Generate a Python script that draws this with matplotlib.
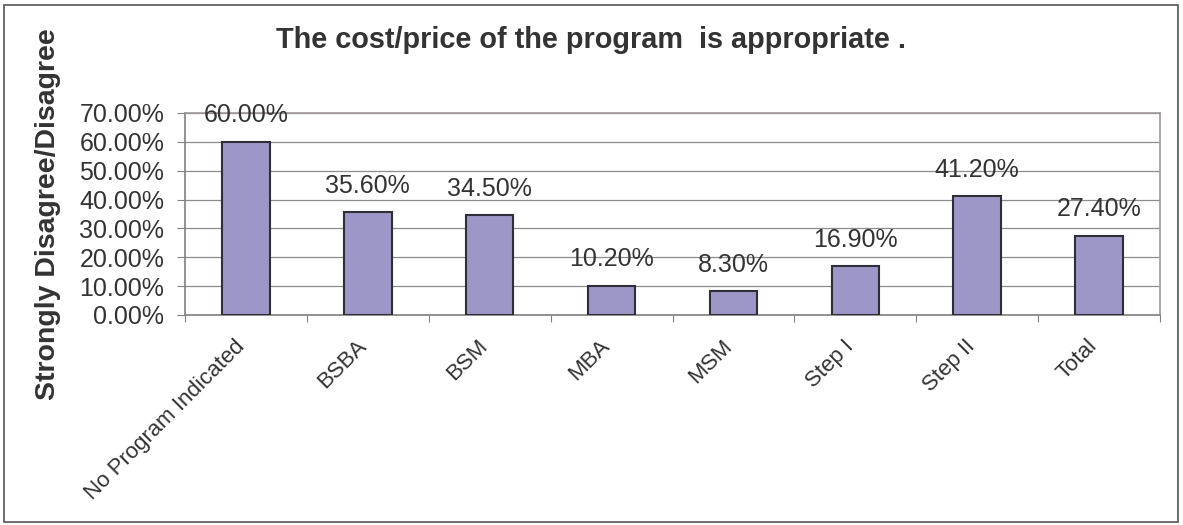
import matplotlib
matplotlib.use("Agg")
import matplotlib.pyplot as plt
from matplotlib.ticker import FuncFormatter, MultipleLocator, FixedLocator
from matplotlib.patches import Rectangle

categories = ["No Program Indicated", "BSBA", "BSM", "MBA", "MSM", "Step I", "Step II", "Total"]
values = [0.600, 0.356, 0.345, 0.102, 0.083, 0.169, 0.412, 0.274]
labels = ["60.00%", "35.60%", "34.50%", "10.20%", "8.30%", "16.90%", "41.20%", "27.40%"]
title = "The cost/price of the program  is appropriate ."
ylabel = "Strongly Disagree/Disagree"

plt.rcParams['font.family'] = ['Liberation Sans', 'DejaVu Sans']

W, H = 1183, 525
fig = plt.figure(figsize=(W / 100, H / 100), dpi=100)
fig.patch.set_facecolor('white')

# axes placement in pixels
left, right, top, bottom = 185, 1160, 113, 315
ax = fig.add_axes([left / W, 1 - bottom / H, (right - left) / W, (bottom - top) / H])

x = list(range(len(categories)))
ax.bar(x, values, width=0.39, color='#9D97C8', edgecolor='#2E2E38', linewidth=1.5, zorder=3)
ax.set_xlim(-0.5, len(categories) - 0.5)
ax.set_ylim(0, 0.70)
ax.yaxis.set_major_locator(MultipleLocator(0.1))
ax.yaxis.set_major_formatter(FuncFormatter(lambda v, p: f"{v*100:.2f}%"))
ax.grid(axis='y', color='#8C8C8C', linewidth=0.9, zorder=0)
ax.set_axisbelow(True)

for xi, v, lab in zip(x, values, labels):
    ax.annotate(lab, (xi, v), xytext=(0, 14), textcoords='offset points',
                ha='center', va='baseline', fontsize=18, color='#333333')

# x ticks at category boundaries; labels slightly left of the category centre
label_shift = 0.1
ax.xaxis.set_major_locator(FixedLocator([i - 0.5 for i in range(len(categories) + 1)]))
ax.xaxis.set_minor_locator(FixedLocator([xi - label_shift for xi in x]))
ax.set_xticklabels([])
ax.set_xticklabels(categories, minor=True, rotation=45, ha='right', va='top',
                   rotation_mode='anchor', fontsize=16, color='#333333')
ax.tick_params(axis='x', which='major', length=5, color='#808080', direction='out')
ax.tick_params(axis='x', which='minor', length=0, pad=15)
ax.tick_params(axis='y', length=6, color='#808080', direction='out', labelsize=18,
               labelcolor='#333333', pad=9)

for s in ['left', 'bottom']:
    ax.spines[s].set_color('#808080')
    ax.spines[s].set_linewidth(1.2)
for s in ['top', 'right']:
    ax.spines[s].set_color('#A09898')
    ax.spines[s].set_linewidth(1.2)

fig.text(591 / W, 1 - 48 / H, title, ha='center', va='baseline', fontsize=20.8,
         fontweight='bold', color='#333333')
ax.set_ylabel(ylabel, fontsize=20.5, fontweight='bold', color='#333333')
ax.yaxis.set_label_coords(-(left - 48) / (right - left), 0.5)
ax.yaxis.label.set_va('center')

fig.add_artist(Rectangle((4 / W, 3 / H), (1178 - 4) / W, (521 - 4) / H,
                         transform=fig.transFigure, fill=False, edgecolor='#555555',
                         linewidth=1.2))

fig.savefig("out.png", dpi=100, facecolor='white')
